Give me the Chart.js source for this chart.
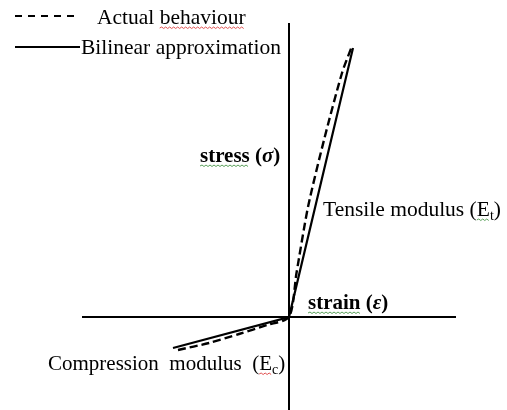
<!DOCTYPE html>
<html>
<head>
<meta charset="utf-8">
<script src="https://cdn.jsdelivr.net/npm/chart.js@4.4.0/dist/chart.umd.min.js"></script>
<style>
  html, body { margin: 0; padding: 0; background: #fff; }
  #wrap { width: 507px; height: 410px; }
</style>
</head>
<body>
<div id="wrap"><canvas id="stressStrain" width="507" height="410"></canvas></div>
<script>
const serif = '"Liberation Serif", "Times New Roman", serif';

// strain / stress in arbitrary units, origin at (0, 0)
const actualStrain = [-111, -80, -50, -22, 0, 7.5, 19, 35, 53, 63];
const actualStress = [-33, -26, -17, -8, 0, 44, 110, 177, 244, 271];
const bilinearStrain = [-116, 0, 64];
const bilinearStress = [-31, 0, 269];
const strainRange = [-207, 167];
const stressRange = [-93, 294];
const seriesNames = ['Actual behaviour', 'Bilinear approximation'];

function toPoints(xs, ys) {
  return xs.map((x, i) => ({ x: x, y: ys[i] }));
}

// draws a run of text pieces, some bold / italic / subscript
function drawRich(ctx, parts, x, y) {
  let cx = x;
  parts.forEach(p => {
    ctx.font = p.font;
    ctx.fillText(p.t, cx, y + (p.dy || 0));
    const w = ctx.measureText(p.t).width;
    if (p.squiggle) squiggle(ctx, cx, cx + w, y + 4, p.squiggle);
    cx += w;
  });
}

function squiggle(ctx, x0, x1, y, color) {
  ctx.save();
  ctx.strokeStyle = color;
  ctx.lineWidth = 1;
  ctx.beginPath();
  let up = true;
  ctx.moveTo(x0, y);
  for (let x = x0 + 2; x <= x1; x += 2) {
    ctx.lineTo(x, up ? y - 1 : y + 0.5);
    up = !up;
  }
  ctx.stroke();
  ctx.restore();
}

const labelsPlugin = {
  id: 'labelsPlugin',
  afterDraw(chart) {
    const ctx = chart.ctx;
    ctx.save();
    ctx.fillStyle = '#000';
    ctx.textBaseline = 'alphabetic';

    // legend, using the datasets' own line styles
    const rows = [
      { lineX: [15, 76], lineY: 16, textX: 97, textY: 24 },
      { lineX: [15, 80], lineY: 47, textX: 81, textY: 54 }
    ];
    chart.data.datasets.forEach((ds, i) => {
      const r = rows[i];
      ctx.save();
      ctx.strokeStyle = ds.borderColor;
      ctx.lineWidth = 2.2;
      ctx.setLineDash(i === 0 ? [7, 6] : []);
      ctx.beginPath();
      ctx.moveTo(r.lineX[0], r.lineY);
      ctx.lineTo(r.lineX[1], r.lineY);
      ctx.stroke();
      ctx.restore();
      if (i === 0) {
        drawRich(ctx, [
          { t: 'Actual ', font: '21.5px ' + serif },
          { t: 'behaviour', font: '21.5px ' + serif, squiggle: '#e05050' }
        ], r.textX, r.textY);
      } else {
        drawRich(ctx, [{ t: ds.label, font: '21.5px ' + serif }], r.textX, r.textY);
      }
    });

    const green = '#5aa05a';
    const red = '#e05050';
    drawRich(ctx, [
      { t: 'stress', font: 'bold 21px ' + serif, squiggle: green },
      { t: ' (', font: 'bold 21px ' + serif },
      { t: 'σ', font: 'italic bold 21px ' + serif },
      { t: ')', font: 'bold 21px ' + serif }
    ], 200, 162);

    drawRich(ctx, [
      { t: 'strain', font: 'bold 21px ' + serif, squiggle: green },
      { t: ' (', font: 'bold 21px ' + serif },
      { t: 'ε', font: 'italic bold 21px ' + serif },
      { t: ')', font: 'bold 21px ' + serif }
    ], 308, 309);

    drawRich(ctx, [
      { t: 'Tensile modulus (', font: '21.5px ' + serif },
      { t: 'E', font: '21.5px ' + serif, squiggle: green },
      { t: 't', font: '14px ' + serif, dy: 4 },
      { t: ')', font: '21.5px ' + serif }
    ], 323, 216);

    drawRich(ctx, [
      { t: 'Compression  modulus  (', font: '21px ' + serif },
      { t: 'E', font: '21px ' + serif, squiggle: red },
      { t: 'c', font: '14px ' + serif, dy: 4 },
      { t: ')', font: '21px ' + serif }
    ], 48, 370);

    ctx.restore();
  }
};

function axisOnlyAtZero(scale) {
  scale.ticks = [{ value: 0 }];
}

const axisGrid = {
  color: '#000',
  lineWidth: 2,
  drawTicks: false
};

new Chart(document.getElementById('stressStrain').getContext('2d'), {
  type: 'scatter',
  data: {
    datasets: [
      {
        label: seriesNames[0],
        data: toPoints(actualStrain, actualStress),
        showLine: true,
        borderColor: '#000',
        borderWidth: 2.4,
        borderDash: [8, 4],
        tension: 0.25,
        pointRadius: 0,
        fill: false
      },
      {
        label: seriesNames[1],
        data: toPoints(bilinearStrain, bilinearStress),
        showLine: true,
        borderColor: '#000',
        borderWidth: 2.2,
        tension: 0,
        pointRadius: 0,
        fill: false
      }
    ]
  },
  options: {
    responsive: false,
    animation: false,
    layout: { padding: { left: 82, right: 51, top: 23, bottom: 0 } },
    plugins: {
      legend: { display: false },
      tooltip: { enabled: false }
    },
    scales: {
      x: {
        type: 'linear',
        min: strainRange[0],
        max: strainRange[1],
        afterBuildTicks: axisOnlyAtZero,
        ticks: { display: false },
        border: { display: false },
        grid: axisGrid
      },
      y: {
        type: 'linear',
        min: stressRange[0],
        max: stressRange[1],
        afterBuildTicks: axisOnlyAtZero,
        ticks: { display: false },
        border: { display: false },
        grid: axisGrid
      }
    }
  },
  plugins: [labelsPlugin]
});
</script>
</body>
</html>
